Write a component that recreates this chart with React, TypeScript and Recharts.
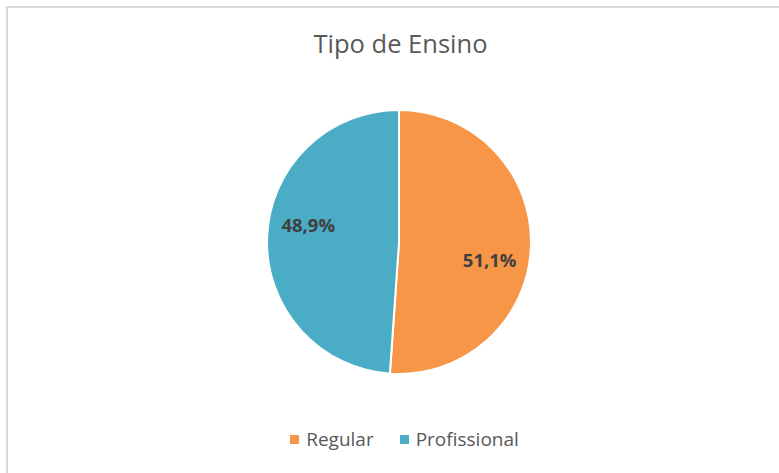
import React from "react";
import { PieChart, Pie, Cell, Legend } from "recharts";

const categories = ["Regular", "Profissional"];
const values = [51.1, 48.9];
const colors = ["#F79646", "#4BACC6"];
const title = "Tipo de Ensino";

const data = categories.map((name, i) => ({ name, value: values[i] }));

const RAD = Math.PI / 180;

const renderLabel = (props: any) => {
  const { cx, cy, midAngle, outerRadius, value } = props;
  const r = outerRadius * 0.7;
  const a = midAngle - 9;
  const x = cx + r * Math.cos(-a * RAD);
  const y = cy + r * Math.sin(-a * RAD);
  return (
    <text
      x={x}
      y={y}
      textAnchor="middle"
      dominantBaseline="central"
      fill="#404040"
      fontSize={18.5}
      fontWeight="bold"
      fontFamily="'Open Sans', sans-serif"
    >
      {value.toFixed(1).replace(".", ",") + "%"}
    </text>
  );
};

const renderLegend = () => (
  <div
    style={{
      display: "flex",
      justifyContent: "center",
      alignItems: "center",
      gap: 26,
      fontFamily: "'Open Sans', sans-serif",
    }}
  >
    {categories.map((c, i) => (
      <div key={c} style={{ display: "flex", alignItems: "center" }}>
        <span
          style={{
            display: "inline-block",
            width: 9,
            height: 9,
            background: colors[i],
            marginRight: 7,
          }}
        />
        <span style={{ color: "#595959", fontSize: 19 }}>{c}</span>
      </div>
    ))}
  </div>
);

export default function App() {
  return (
    <div
      style={{
        position: "absolute",
        left: 0,
        top: 0,
        width: 779,
        height: 473,
        overflow: "hidden",
        background: "#fff",
        fontFamily: "'Open Sans', sans-serif",
      }}
    >
      <svg
        width={779}
        height={473}
        style={{ position: "absolute", left: 0, top: 0 }}
      >
        <rect x={7} y={7} width={790} height={490} fill="#ffffff" stroke="#d9d9d9" strokeWidth={2} />
      </svg>
      <div
        style={{
          position: "absolute",
          top: 26,
          left: 0,
          width: 801,
          textAlign: "center",
          fontSize: 25.5,
          color: "#595959",
          fontFamily: "'Open Sans', sans-serif",
        }}
      >
        {title}
      </div>
      <div style={{ position: "absolute", left: 0, top: 0 }}>
        <PieChart width={779} height={473} margin={{ top: 0, left: 0, right: 0, bottom: 0 }}>
          <Pie
            data={data}
            dataKey="value"
            nameKey="name"
            cx={399}
            cy={242}
            outerRadius={132}
            startAngle={90}
            endAngle={-270}
            stroke="#ffffff"
            strokeWidth={2}
            label={renderLabel}
            labelLine={false}
            isAnimationActive={false}
          >
            {data.map((d, i) => (
              <Cell key={d.name} fill={colors[i]} />
            ))}
          </Pie>
          <Legend
            verticalAlign="bottom"
            content={renderLegend}
            wrapperStyle={{ position: "absolute", top: 426, left: 0, width: 809 }}
          />
        </PieChart>
      </div>
    </div>
  );
}
